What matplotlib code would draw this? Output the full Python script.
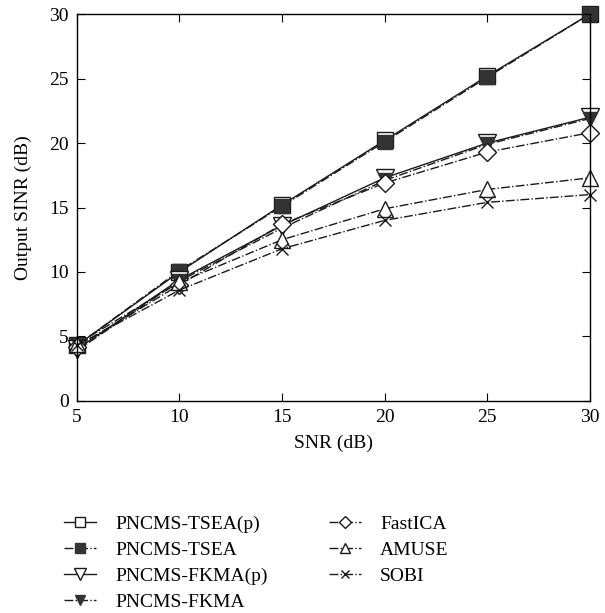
import matplotlib.pyplot as plt

plt.rcParams['font.family'] = ['Liberation Serif', 'DejaVu Serif']

snr = [5, 10, 15, 20, 25, 30]

tsea_p = [4.3, 10.0, 15.2, 20.2, 25.2, 30.0]
tsea = [4.3, 10.1, 15.1, 20.1, 25.1, 30.0]
fkma_p = [4.0, 9.4, 13.6, 17.3, 20.0, 22.0]
fkma = [3.9, 9.3, 13.4, 17.1, 19.9, 21.9]
fastica = [4.2, 9.0, 13.7, 16.9, 19.3, 20.8]
amuse = [4.4, 9.2, 12.5, 14.9, 16.4, 17.3]
sobi = [4.3, 8.6, 11.8, 14.0, 15.4, 16.0]

labels = ['PNCMS-TSEA(p)', 'PNCMS-TSEA', 'PNCMS-FKMA(p)', 'PNCMS-FKMA',
          'FastICA', 'AMUSE', 'SOBI']

fig = plt.figure(figsize=(6.05, 6.13), dpi=100)
ax = fig.add_axes([0.127, 0.346, 0.848, 0.631])

lc = '#1a1a1a'
dark = '#333333'
kw = dict(color=lc, lw=1.0, clip_on=False)
h = []
h += ax.plot(snr, tsea_p, '-', marker='s', ms=11, mfc='white', mec=lc, label=labels[0], **kw)
h += ax.plot(snr, tsea, '-.', marker='s', ms=10, mfc=dark, mec=dark, label=labels[1], **kw)
h += ax.plot(snr, fkma_p, '-', marker='v', ms=13, mfc='white', mec=lc, label=labels[2], **kw)
h += ax.plot(snr, fkma, '-.', marker='v', ms=10, mfc=dark, mec=dark, label=labels[3], **kw)
h += ax.plot(snr, fastica, '-.', marker='D', ms=9, mfc='white', mec=lc, label=labels[4], **kw)
h += ax.plot(snr, amuse, '-.', marker='^', ms=12, mfc='white', mec=lc, label=labels[5], **kw)
h += ax.plot(snr, sobi, '-.', marker='x', ms=8, mfc='none', mec=lc, label=labels[6], **kw)

ax.set_xlim(5, 30)
ax.set_ylim(0, 30)
ax.set_xticks([5, 10, 15, 20, 25, 30])
ax.set_yticks([0, 5, 10, 15, 20, 25, 30])
ax.tick_params(direction='in', top=True, right=True, labelsize=14, length=6, pad=6)
for s in ax.spines.values():
    s.set_linewidth(1.0)
ax.set_xlabel('SNR (dB)', fontsize=14, labelpad=6)
ax.set_ylabel('Output SINR (dB)', fontsize=14, labelpad=12)

leg_kw = dict(loc='upper left', frameon=False, fontsize=14, borderpad=0,
              handlelength=1.65, handletextpad=1.0, labelspacing=0.44,
              markerscale=0.65, borderaxespad=0)
fig.legend(handles=h[:4], bbox_to_anchor=(0.105, 0.16), **leg_kw)
fig.legend(handles=h[4:], bbox_to_anchor=(0.543, 0.16), **leg_kw)

fig.savefig('out.png', dpi=100)
